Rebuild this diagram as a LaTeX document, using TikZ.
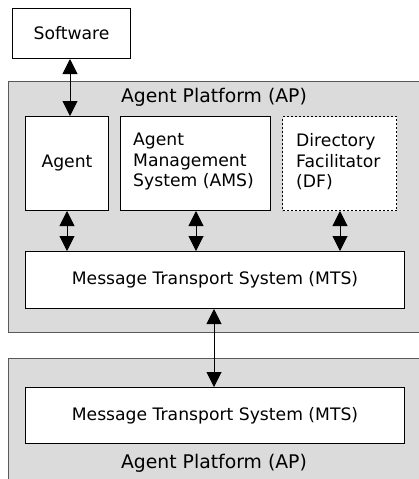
\documentclass[tikz,border=0pt]{standalone}
\usepackage{fontspec}
\setmainfont{DejaVu Sans}
\usetikzlibrary{arrows.meta}
\begin{document}
\begin{tikzpicture}[x=1pt,y=-1pt,
  platform/.style={draw=black!65,fill=black!14,line width=1pt},
  box/.style={draw=black,fill=white,line width=1pt},
  dotbox/.style={draw=black,fill=white,line width=1pt,dash pattern=on 2pt off 2pt},
  lbl/.style={font=\fontsize{17.2}{20.5}\selectfont,inner sep=0pt,align=left},
  aplbl/.style={font=\fontsize{18.8}{22}\selectfont,inner sep=0pt},
  conn/.style={line width=1pt,{Triangle[width=15pt,length=15pt]}-{Triangle[width=15pt,length=15pt]}}]
\useasboundingbox (0,0) rectangle (418,479);
% platforms
\path[platform] (8,81) rectangle (425,332);
\path[platform] (8,358) rectangle (425,486);
\node[aplbl] (ap1) at (214,97) {Agent Platform (AP)};
\node[aplbl] (ap2) at (214,463) {Agent Platform (AP)};
% boxes
\node[box,minimum width=118pt,minimum height=50pt,anchor=north west] (sw) at (12,8) {};
\node[lbl] (swt) at (sw.center) {Software};
\node[box,minimum width=83pt,minimum height=94pt,anchor=north west] (agent) at (25,116) {};
\node[lbl] (agt) at (agent.center) {Agent};
\node[box,minimum width=150pt,minimum height=94pt,anchor=north west] (ams) at (120,116) {};
\node[lbl,anchor=west] (amst) at (133,162) {Agent\\Management\\System (AMS)};
\node[dotbox,minimum width=114pt,minimum height=94pt,anchor=north west] (df) at (282,116) {};
\node[lbl,anchor=west] (dft) at (296,162) {Directory\\Facilitator\\(DF)};
\node[box,minimum width=379pt,minimum height=57pt,anchor=north west] (mts1) at (25,251) {};
\node[lbl] (mts1t) at (mts1.center) {Message Transport System (MTS)};
\node[box,minimum width=379pt,minimum height=56pt,anchor=north west] (mts2) at (25,387) {};
\node[lbl] (mts2t) at (mts2.center) {Message Transport System (MTS)};
% connectors
\draw[conn] (sw.south -| 70,0) -- (agent.north -| 70,0);
\draw[conn] (agent.south -| 67,0) -- (mts1.north -| 67,0);
\draw[conn] (ams.south -| 196,0) -- (mts1.north -| 196,0);
\draw[conn] (df.south -| 340,0) -- (mts1.north -| 340,0);
\draw[conn] (mts1.south -| 214,0) -- (mts2.north -| 214,0);
\end{tikzpicture}
\end{document}
